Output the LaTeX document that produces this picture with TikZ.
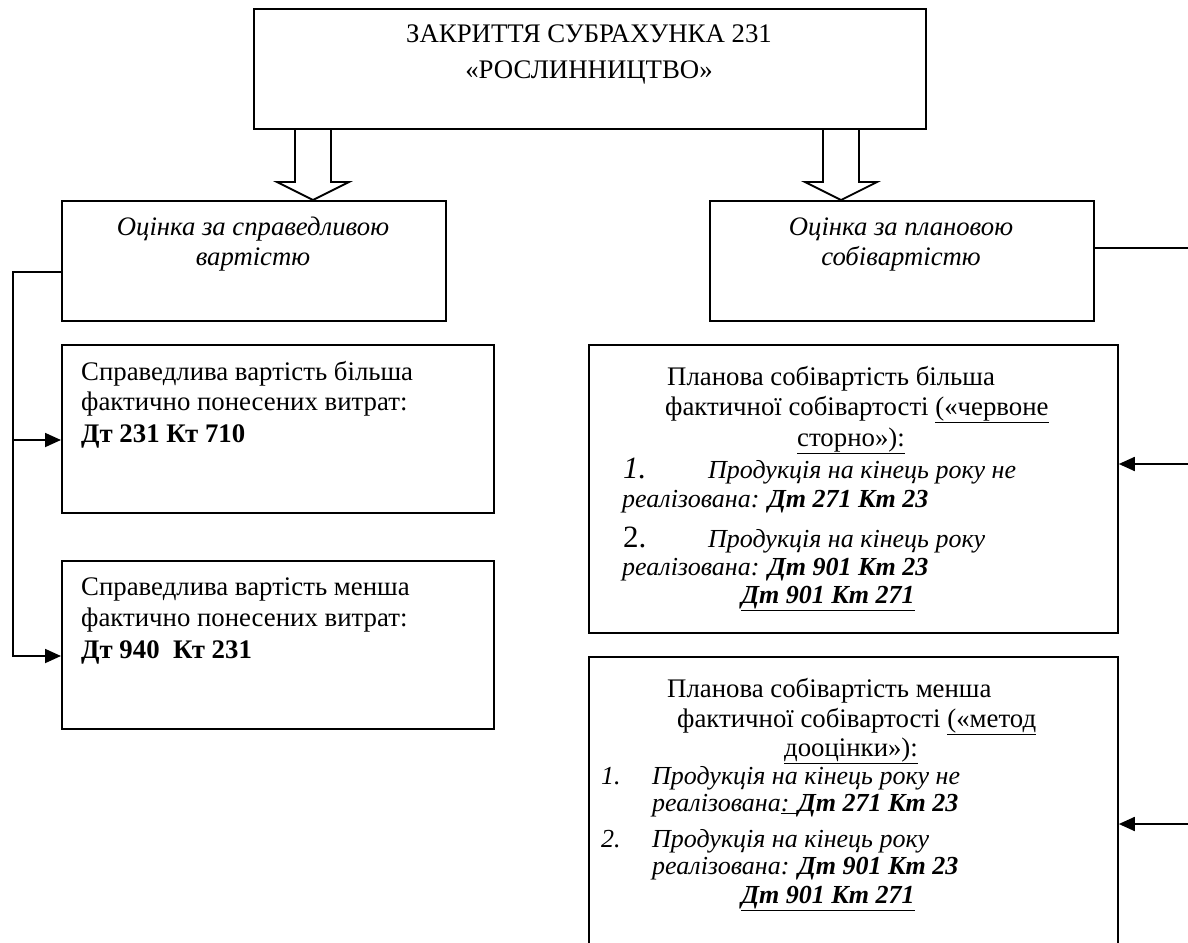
\documentclass[tikz,border=0pt]{standalone}
\usepackage{fontspec}
\setmainfont{Liberation Serif}
\usetikzlibrary{arrows.meta,calc}

\begin{document}
\begin{tikzpicture}[x=1pt,y=-1pt,
  box/.style={draw,line width=1.8pt,inner sep=0pt,anchor=north west},
  txt/.style={inner sep=0pt,anchor=base west,font=\fontsize{26.8}{31}\selectfont},
  ctxt/.style={txt,anchor=base},
  itxt/.style={txt,font=\fontsize{26}{31}\selectfont\itshape},
  ictxt/.style={itxt,anchor=base},
  fitxt/.style={ictxt,font=\fontsize{26.7}{31}\selectfont\itshape},
  link/.style={line width=1.8pt},
  arr/.style={link,-{Triangle[length=16pt,width=14pt]}},
  block/.style={draw,line width=1.8pt,fill=white,line join=miter}
]
\useasboundingbox (0,0) rectangle (1188,942);
\fill[white] (0,0) rectangle (1188,942);
\clip (0,0) rectangle (1188,942);

% hollow block arrows from the heading box
\draw[block] (295,128) -- (295,182) -- (277,182) -- (313,200) -- (349,182) -- (331,182) -- (331,128);
\draw[block] (823,128) -- (823,182) -- (805,182) -- (841,200) -- (877,182) -- (859,182) -- (859,128);

% boxes
\node[box,minimum width=672pt,minimum height=120pt] (top) at (253,8) {};
\node[box,minimum width=384pt,minimum height=120pt] (fair) at (61,200) {};
\node[box,minimum width=384pt,minimum height=120pt] (plan) at (709,200) {};
\node[box,minimum width=432pt,minimum height=168pt] (more) at (61,344) {};
\node[box,minimum width=432pt,minimum height=168pt] (less) at (61,560) {};
\node[box,minimum width=529pt,minimum height=288pt] (pmore) at (588,344) {};
\node[box,minimum width=529pt,minimum height=320pt] (pless) at (588,656) {};

% heading
\node[ctxt] (t1) at (589,43) {ЗАКРИТТЯ СУБРАХУНКА 231};
\node[ctxt] (t2) at (589,78) {«РОСЛИННИЦТВО»};

% valuation methods
\node[fitxt] (f1) at (253,235) {Оцінка за справедливою};
\node[fitxt] (f2) at (253,265) {вартістю};
\node[fitxt] (p1) at (901,235) {Оцінка за плановою};
\node[fitxt] (p2) at (901,265) {собівартістю};

% fair value cases
\node[txt] (m1) at (81,380) {Справедлива вартість більша};
\node[txt] (m2) at (81,410) {фактично понесених витрат:};
\node[txt] (m3) at (81,442) {\bfseries Дт 231 Кт 710};
\node[txt] (l1) at (81,595) {Справедлива вартість менша};
\node[txt] (l2) at (81,626) {фактично понесених витрат:};
\node[txt] (l3) at (81,658) {\bfseries Дт 940\ \ Кт 231};

% planned cost greater
\node[txt] (a1) at (667,385) {Планова собівартість більша};
\node[txt] (a2) at (665,415) {фактичної собівартості \underline{(«червоне}};
\node[ctxt] (a3) at (851,446) {\underline{сторно»):}};
\node[itxt] (a4n) at (623,478) {\fontsize{31}{31}\selectfont 1.};
\node[itxt] (a4) at (708,478) {Продукція на кінець року не};
\node[itxt] (a5) at (622,507) {реалізована: \bfseries Дт 271 Кт 23};
\node[txt] (a6n) at (623,547) {\fontsize{31}{31}\selectfont 2.};
\node[itxt] (a6) at (708,547) {Продукція на кінець року};
\node[itxt] (a7) at (622,575) {реалізована: \bfseries Дт 901 Кт 23};
\node[ictxt] (a8) at (828,603) {\bfseries\underline{Дт 901 Кт 271}};

% planned cost smaller
\node[txt] (b1) at (667,697) {Планова собівартість менша};
\node[txt] (b2) at (677,727) {фактичної собівартості \underline{(«метод}};
\node[ctxt] (b3) at (851,756) {\underline{дооцінки»):}};
\node[itxt] (b4n) at (601,784) {1.};
\node[itxt] (b4) at (652,784) {Продукція на кінець року не};
\node[itxt] (b5) at (652,811) {реалізована\underline{: }\bfseries Дт 271 Кт 23};
\node[itxt] (b6n) at (601,847) {2.};
\node[itxt] (b6) at (652,847) {Продукція на кінець року};
\node[itxt] (b7) at (652,874) {реалізована: \bfseries Дт 901 Кт 23};
\node[ictxt] (b8) at (828,903) {\bfseries\underline{Дт 901 Кт 271}};

% left connectors
\coordinate (lt) at (13,272);
\coordinate (lj1) at (13,440);
\coordinate (lj2) at (13,656);
\draw[arr] (fair.west |- lt) -- (lt) -- (lj2) -- (less.west |- lj2);
\draw[arr] (lj1) -- (more.west |- lj1);

% right connectors
\coordinate (rt) at (1188,248);
\coordinate (rj1) at (1188,464);
\coordinate (rj2) at (1188,824);
\draw[link] (plan.east |- rt) -- (rt);
\draw[arr] (rj1) -- (pmore.east |- rj1);
\draw[arr] (rj2) -- (pless.east |- rj2);
\end{tikzpicture}
\end{document}
